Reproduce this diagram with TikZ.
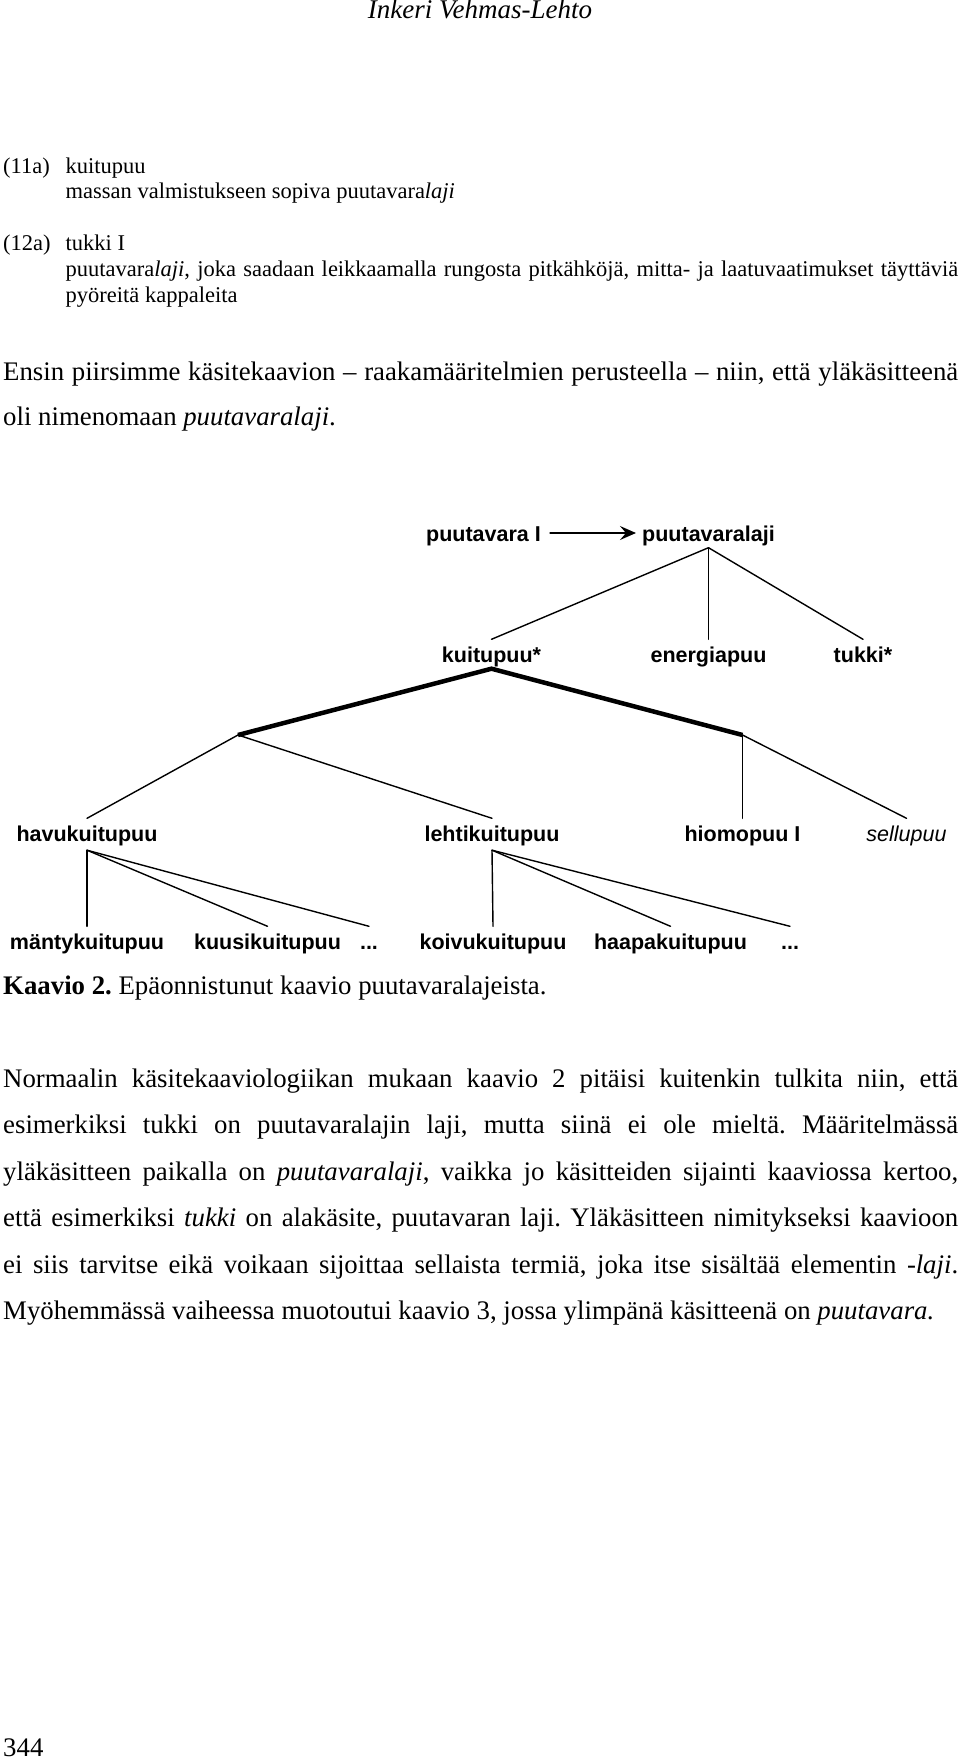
\documentclass[tikz,border=0pt]{standalone}
\usepackage{fontspec}
\setmainfont{Liberation Serif}
\newfontfamily\diagfont{Liberation Sans}
\usetikzlibrary{arrows.meta}
\frenchspacing
\begin{document}
\begin{tikzpicture}[x=1pt,y=-1pt,
  txt/.style={anchor=base west, inner sep=0pt, font=\fontsize{26.8}{32}\selectfont},
  extxt/.style={anchor=base west, inner sep=0pt, font=\fontsize{22.5}{26}\selectfont},
  lbl/.style={anchor=base, inner sep=0pt, text height=22.5pt, text depth=6.5pt,
    font=\diagfont\bfseries\fontsize{21.5}{24}\selectfont},
  lblthree/.style={lbl, text depth=9pt},
  edge/.style={line width=1.4pt, line cap=round},
  heavy/.style={line width=4.5pt, line join=miter}]
\fill[white] (0,0) rectangle (960,1760);
\useasboundingbox (0,0) rectangle (960,1760);

% header
\node[anchor=base, inner sep=0pt, font=\itshape\fontsize{27}{32}\selectfont] (title) at (480,19) {Inkeri Vehmas-Lehto};

% examples
\node[extxt] (e11) at (3,174) {(11a)};
\node[extxt] (e11a) at (65.5,174) {kuitupuu};
\node[extxt] (e11b) at (65.5,199) {massan valmistukseen sopiva puutavara\textit{laji}};
\node[extxt] (e12) at (3,251) {(12a)};
\node[extxt] (e12a) at (65.5,251) {tukki I};
\node[extxt] (e12b) at (65.5,277) {\makebox[892.5pt][s]{puutavara\textit{laji}, joka saadaan leikkaamalla rungosta pitkähköjä, mitta- ja laatuvaatimukset täyttäviä}};
\node[extxt] (e12c) at (65.5,303) {pyöreitä kappaleita};

% intro paragraph
\node[txt] (p1a) at (3,380) {\makebox[955pt][s]{Ensin piirsimme käsitekaavion – raakamääritelmien perusteella – niin, että yläkäsitteenä}};
\node[txt] (p1b) at (3,425) {oli nimenomaan \textit{puutavaralaji}.};

% diagram
\node[lbl] (pv) at (483.5,541) {puutavara I};
\node[lbl] (pl) at (708.5,541) {puutavaralaji};
\draw[edge,-{Stealth[length=16pt,width=14pt,inset=6pt]}] ([xshift=9pt]pv.east) -- ([xshift=-6pt]pl.west);

\node[lbl] (kp) at (491.5,662) {kuitupuu*};
\node[lbl] (ep) at (708.5,662) {energiapuu};
\node[lbl] (tk) at (863,662) {tukki*};
\draw[edge] (pl.south) -- (kp.north);
\draw[edge] (pl.south) -- (ep.north);
\draw[edge] (pl.south) -- (tk.north);

\coordinate (jl) at (238,735);
\coordinate (jr) at (742.5,735);
\draw[heavy] (jl) -- (kp.south) -- (jr);

\node[lblthree] (hk) at (87,841) {havukuitupuu};
\node[lblthree] (lk) at (492,841) {lehtikuitupuu};
\node[lblthree] (hp) at (742.5,841) {hiomopuu I};
\node[lblthree, font=\diagfont\itshape\fontsize{21.5}{24}\selectfont] (sp) at (906.5,841) {sellupuu};
\draw[edge] (jl) -- (hk.north);
\draw[edge] (jl) -- (lk.north);
\draw[edge] (jr) -- (hp.north);
\draw[edge] (jr) -- (sp.north);

\node[lbl] (mk) at (87,949) {mäntykuitupuu};
\node[lbl] (kk) at (267.5,949) {kuusikuitupuu};
\node[lbl] (da) at (369,949) {...};
\node[lbl] (kv) at (493,949) {koivukuitupuu};
\node[lbl] (hpk) at (670.5,949) {haapakuitupuu};
\node[lbl] (db) at (790,949) {...};
\draw[edge] (hk.south) -- (mk.north);
\draw[edge] (hk.south) -- (kk.north);
\draw[edge] (hk.south) -- (da.north);
\draw[edge] (lk.south) -- (kv.north);
\draw[edge] (lk.south) -- (hpk.north);
\draw[edge] (lk.south) -- (db.north);

% caption
\node[txt] (cap) at (3,994) {\textbf{Kaavio 2.} Epäonnistunut kaavio puutavaralajeista.};

% paragraph
\node[txt] (q1) at (3,1087) {\makebox[955pt][s]{Normaalin käsitekaaviologiikan mukaan kaavio 2 pitäisi kuitenkin tulkita niin, että}};
\node[txt] (q2) at (3,1133.5) {\makebox[955pt][s]{esimerkiksi tukki on puutavaralajin laji, mutta siinä ei ole mieltä. Määritelmässä}};
\node[txt] (q3) at (3,1180) {\makebox[955pt][s]{yläkäsitteen paikalla on \textit{puutavaralaji}, vaikka jo käsitteiden sijainti kaaviossa kertoo,}};
\node[txt] (q4) at (3,1226.5) {\makebox[955pt][s]{että esimerkiksi \textit{tukki} on alakäsite, puutavaran laji. Yläkäsitteen nimitykseksi kaavioon}};
\node[txt] (q5) at (3,1273) {\makebox[955pt][s]{ei siis tarvitse eikä voikaan sijoittaa sellaista termiä, joka itse sisältää elementin -\textit{laji}.}};
\node[txt] (q6) at (3,1319.5) {Myöhemmässä vaiheessa muotoutui kaavio 3, jossa ylimpänä käsitteenä on \textit{puutavara.}};

% page number
\node[txt] (pg) at (3,1756) {344};
\end{tikzpicture}
\end{document}
